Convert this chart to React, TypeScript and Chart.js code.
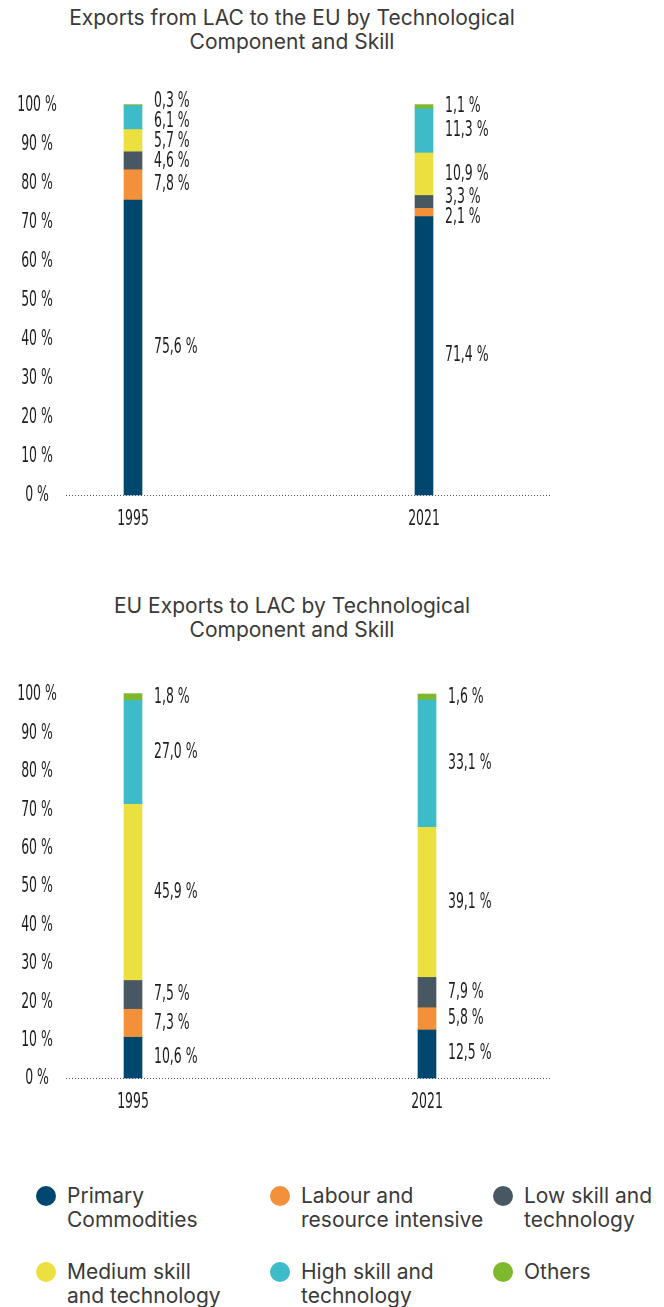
import React, { useEffect, useRef } from 'react';
import { Chart, registerables } from 'chart.js';

Chart.register(...registerables);

// ---------- data ----------
const YEARS = ['1995', '2021'];

const SERIES_NAMES = [
  'Primary Commodities',
  'Labour and resource intensive',
  'Low skill and technology',
  'Medium skill and technology',
  'High skill and technology',
  'Others',
];
const LEGEND_LINES = [
  ['Primary', 'Commodities'],
  ['Labour and', 'resource intensive'],
  ['Low skill and', 'technology'],
  ['Medium skill', 'and technology'],
  ['High skill and', 'technology'],
  ['Others'],
];
const SERIES_COLORS = ['#00476f', '#f2913a', '#485862', '#ece040', '#3dbbc8', '#7db82f'];

// Exports from LAC to the EU
const LAC_PRIMARY = [75.6, 71.4];
const LAC_LABOUR = [7.8, 2.1];
const LAC_LOW = [4.6, 3.3];
const LAC_MEDIUM = [5.7, 10.9];
const LAC_HIGH = [6.1, 11.3];
const LAC_OTHERS = [0.3, 1.1];

// EU exports to LAC
const EU_PRIMARY = [10.6, 12.5];
const EU_LABOUR = [7.3, 5.8];
const EU_LOW = [7.5, 7.9];
const EU_MEDIUM = [45.9, 39.1];
const EU_HIGH = [27.0, 33.1];
const EU_OTHERS = [1.8, 1.6];

const Y_MIN = 0;
const Y_MAX = 100;
const Y_STEP = 10;

const TITLE_LAC = ['Exports from LAC to the EU by Technological', 'Component and Skill'];
const TITLE_EU = ['EU Exports to LAC by Technological', 'Component and Skill'];

// ---------- styles ----------
const COND_FONT = "'DejaVu Sans Condensed', 'DejaVu Sans', sans-serif";
const COND_SIZE = 21;
const COND_SX = 0.66;
const SANS_FONT = "Inter, Roboto, 'Noto Sans', sans-serif";
const TEXT_DARK = '#1e1e1e';
const TITLE_COLOR = '#3a3a3a';
const CANVAS_W = 664;
const AXIS_W = 133;
const Y_LABEL_X = 37;
const LABEL_GAP = 12;
const LABEL_MIN_GAP = 20;

const fmtPct = (v: number) => v.toFixed(1).replace('.', ',') + ' %';

function drawCond(ctx: CanvasRenderingContext2D, text: string, x: number, y: number) {
  ctx.save();
  ctx.translate(x, y);
  ctx.scale(COND_SX, 1);
  ctx.fillText(text, 0, 0);
  ctx.restore();
}

function relax(items: any[], gap: number) {
  const sorted = [...items].sort((a, b) => a.y0 - b.y0);
  const clusters: any[] = [];
  for (const it of sorted) {
    clusters.push({ items: [it], sum: it.y0 });
    while (clusters.length > 1) {
      const c = clusters[clusters.length - 1];
      const p = clusters[clusters.length - 2];
      const cTop = c.sum / c.items.length - (gap * (c.items.length - 1)) / 2;
      const pBot = p.sum / p.items.length + (gap * (p.items.length - 1)) / 2;
      if (cTop - pBot < gap) {
        p.items.push(...c.items);
        p.sum += c.sum;
        clusters.pop();
      } else break;
    }
  }
  for (const c of clusters) {
    const mean = c.sum / c.items.length;
    c.items.forEach((it: any, k: number) => {
      it.y = mean + gap * (k - (c.items.length - 1) / 2);
    });
  }
}

const segLabelPlugin = {
  id: 'segLabels',
  afterDatasetsDraw(chart: any) {
    const ctx = chart.ctx;
    const n = chart.data.labels.length;
    ctx.save();
    ctx.font = `${COND_SIZE}px ${COND_FONT}`;
    ctx.fillStyle = TEXT_DARK;
    ctx.textBaseline = 'middle';
    ctx.textAlign = 'left';
    for (let i = 0; i < n; i++) {
      const items: any[] = [];
      chart.data.datasets.forEach((ds: any, di: number) => {
        const el = chart.getDatasetMeta(di).data[i];
        if (!el) return;
        const p = el.getProps(['x', 'y', 'base', 'width'], true);
        items.push({
          text: fmtPct(ds.data[i]),
          x: p.x + p.width / 2 + LABEL_GAP,
          y0: (p.y + p.base) / 2,
          y: 0,
        });
      });
      relax(items, LABEL_MIN_GAP);
      items.forEach((it) => drawCond(ctx, it.text, it.x, it.y));
    }
    ctx.restore();
  },
};

const condTicksPlugin = {
  id: 'condTicks',
  afterDraw(chart: any) {
    const ctx = chart.ctx;
    const xs = chart.scales.x;
    const ys = chart.scales.y;
    ctx.save();
    ctx.font = `${COND_SIZE}px ${COND_FONT}`;
    ctx.fillStyle = TEXT_DARK;
    ctx.textBaseline = 'middle';
    ctx.textAlign = 'center';
    ys.ticks.forEach((t: any) => {
      drawCond(ctx, `${t.value} %`, Y_LABEL_X, ys.getPixelForValue(t.value) + 1);
    });
    xs.ticks.forEach((t: any, i: number) => {
      drawCond(ctx, String(xs.getLabelForValue(t.value)), xs.getPixelForTick(i), chart.chartArea.bottom + 25);
    });
    ctx.restore();
  },
};

const baselinePlugin = {
  id: 'dottedBaseline',
  beforeDatasetsDraw(chart: any, _args: any, opts: any) {
    const ctx = chart.ctx;
    const y = Math.round(chart.scales.y.getPixelForValue(Y_MIN)) + 0.5;
    ctx.save();
    ctx.strokeStyle = '#555555';
    ctx.lineWidth = 1;
    ctx.setLineDash([1, 2]);
    ctx.beginPath();
    ctx.moveTo(opts.from, y);
    ctx.lineTo(opts.to, y);
    ctx.stroke();
    ctx.restore();
  },
};

type ChartProps = {
  title: string[];
  series: number[][];
  top: number;
  canvasOffset: number;
  canvasHeight: number;
  padTop: number;
  rightCenter: number;
};

function StackedChart({ title, series, top, canvasOffset, canvasHeight, padTop, rightCenter }: ChartProps) {
  const ref = useRef<HTMLCanvasElement>(null);
  useEffect(() => {
    if (!ref.current) return;
    const chart = new Chart(ref.current, {
      type: 'bar',
      data: {
        labels: YEARS,
        datasets: series.map((d, i) => ({
          label: SERIES_NAMES[i],
          data: d,
          backgroundColor: SERIES_COLORS[i],
          borderWidth: 0,
          barThickness: 18,
          clip: false as any,
        })),
      },
      options: {
        animation: false,
        responsive: false,
        devicePixelRatio: 1,
        layout: { padding: { top: padTop, right: CANVAS_W - rightCenter, left: 0, bottom: 0 } },
        plugins: {
          legend: { display: false },
          tooltip: { enabled: false },
          title: { display: false },
          dottedBaseline: { from: 66, to: 550 },
        } as any,
        scales: {
          x: {
            type: 'category',
            stacked: true,
            offset: false,
            grid: { display: false, drawTicks: false },
            border: { display: false },
            ticks: { display: false, autoSkip: false },
            afterFit: (s: any) => {
              s.height = 55;
            },
          },
          y: {
            type: 'linear',
            stacked: true,
            min: Y_MIN,
            max: Y_MAX,
            grid: { display: false, drawTicks: false },
            border: { display: false },
            ticks: { display: false, stepSize: Y_STEP },
            afterFit: (s: any) => {
              s.width = AXIS_W;
            },
          },
        },
      },
      plugins: [baselinePlugin, segLabelPlugin, condTicksPlugin],
    });
    return () => chart.destroy();
  }, []);

  return (
    <div style={{ position: 'absolute', top, left: 0, width: CANVAS_W }}>
      <div
        style={{
          position: 'absolute',
          top: 0,
          left: 0,
          width: 584,
          textAlign: 'center',
          fontFamily: SANS_FONT,
          fontSize: 21,
          lineHeight: '24px',
          color: TITLE_COLOR,
        }}
      >
        {title.map((t, i) => (
          <div key={i}>{t}</div>
        ))}
      </div>
      <canvas
        ref={ref}
        width={CANVAS_W}
        height={canvasHeight}
        style={{ position: 'absolute', top: canvasOffset, left: 0, display: 'block' }}
      />
    </div>
  );
}

function Legend({ top }: { top: number }) {
  return (
    <div
      style={{
        position: 'absolute',
        top,
        left: 36,
        display: 'grid',
        gridTemplateColumns: '234px 223px 171px',
        rowGap: 28,
        fontFamily: SANS_FONT,
        fontSize: 21,
        lineHeight: '24px',
        color: TITLE_COLOR,
      }}
    >
      {SERIES_NAMES.map((name, i) => (
        <div key={name} style={{ display: 'flex', alignItems: 'flex-start' }}>
          <div
            style={{
              width: 20,
              height: 20,
              borderRadius: '50%',
              background: SERIES_COLORS[i],
              marginTop: 2,
              marginRight: 11,
              flex: '0 0 auto',
            }}
          />
          <div style={{ whiteSpace: 'nowrap' }}>
            {LEGEND_LINES[i].map((l, k) => (
              <div key={k}>{l}</div>
            ))}
          </div>
        </div>
      ))}
    </div>
  );
}

export default function App() {
  return (
    <div style={{ position: 'relative', width: CANVAS_W, height: 1307, background: '#ffffff', overflow: 'hidden' }}>
      <style>{`body{margin:0;background:#fff}`}</style>
      <StackedChart
        title={TITLE_LAC}
        series={[LAC_PRIMARY, LAC_LABOUR, LAC_LOW, LAC_MEDIUM, LAC_HIGH, LAC_OTHERS]}
        top={6}
        canvasOffset={74}
        canvasHeight={470}
        padTop={25}
        rightCenter={424}
      />
      <StackedChart
        title={TITLE_EU}
        series={[EU_PRIMARY, EU_LABOUR, EU_LOW, EU_MEDIUM, EU_HIGH, EU_OTHERS]}
        top={594}
        canvasOffset={71}
        canvasHeight={468}
        padTop={29}
        rightCenter={427}
      />
      <Legend top={1184} />
    </div>
  );
}
